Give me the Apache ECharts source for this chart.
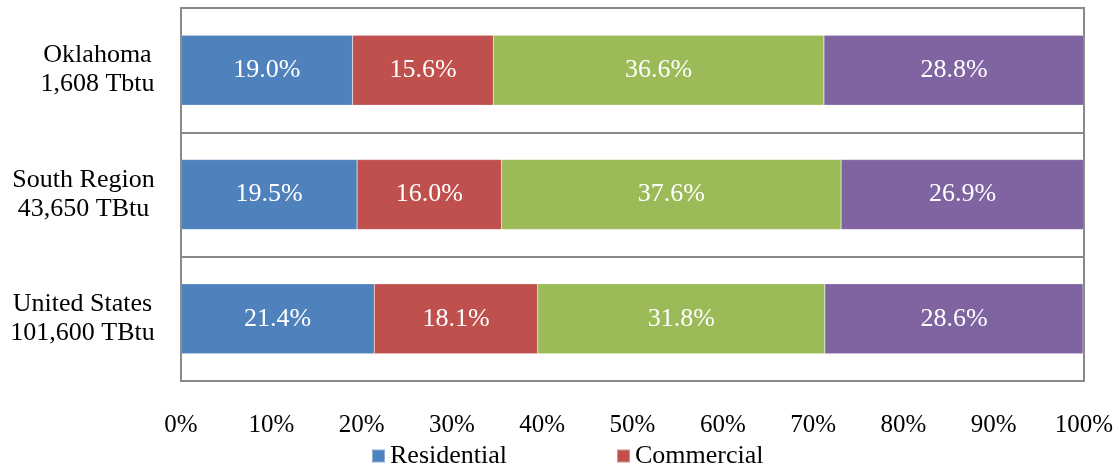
<!DOCTYPE html>
<html>
<head>
<meta charset="utf-8">
<script src="https://cdn.jsdelivr.net/npm/echarts@6/dist/echarts.min.js"></script>
<style>html,body{margin:0;padding:0;background:#fff}#c{width:1117px;height:468px}</style>
</head>
<body>
<div id="c"></div>
<script>
const categories = ['Oklahoma\n1,608 Tbtu', 'South Region\n43,650 TBtu', 'United States\n101,600 TBtu'];
const seriesNames = ['Residential', 'Commercial', 'Industrial', 'Transportation'];
const residential = [19.0, 19.5, 21.4];
const commercial = [15.6, 16.0, 18.1];
const industrial = [36.6, 37.6, 31.8];
const transportation = [28.8, 26.9, 28.6];
const legendShown = ['Residential', 'Commercial'];
const colors = ['#4F81BD', '#C0504D', '#9BBB59', '#8064A2'];

const FONT = '"Liberation Serif", "Times New Roman", serif';
const FS = 26;

const cv = document.createElement('canvas').getContext('2d');
cv.font = FS + 'px ' + FONT;
const rich = {};
categories.forEach((c, i) => {
  const w = Math.max(...c.split('\n').map(s => cv.measureText(s).width));
  rich['c' + i] = {width: Math.ceil(w), align: 'center', fontFamily: FONT, fontSize: FS, color: '#000', lineHeight: 29};
});

const chart = echarts.init(document.getElementById('c'));
const data = [residential, commercial, industrial, transportation];
chart.setOption({
  animation: false,
  textStyle: {fontFamily: FONT},
  grid: {left: 181, right: 33, top: 8, bottom: 87, show: true, borderColor: '#898989', borderWidth: 2, containLabel: false},
  legend: {
    data: legendShown, left: 366, top: 438, itemWidth: 13, itemHeight: 13, itemGap: 109, icon: 'rect',
    textStyle: {fontFamily: FONT, fontSize: FS, color: '#000'}
  },
  xAxis: {
    type: 'value', min: 0, max: 100, interval: 10,
    axisLine: {show: false}, axisTick: {show: false}, splitLine: {show: false},
    axisLabel: {formatter: '{value}%', fontFamily: FONT, fontSize: 25, color: '#000', margin: 32}
  },
  yAxis: {
    type: 'category', inverse: true, data: categories,
    axisLine: {show: true, lineStyle: {color: '#898989', width: 2}},
    axisTick: {show: false},
    splitLine: {show: true, lineStyle: {color: '#898989', width: 2}},
    axisLabel: {
      margin: 26, align: 'right',
      formatter: (v, i) => v.split('\n').map(s => '{c' + i + '|' + s + '}').join('\n'),
      rich: rich
    }
  },
  series: seriesNames.map((n, k) => ({
    name: n, type: 'bar', stack: 'total', barWidth: 70,
    data: data[k],
    itemStyle: {color: colors[k], borderColor: 'rgba(255,255,255,0.35)', borderWidth: 0.5},
    label: {show: true, position: 'inside', color: '#fff', fontFamily: FONT, fontSize: FS,
      formatter: p => p.value.toFixed(1) + '%'}
  }))
});
</script>
</body>
</html>
